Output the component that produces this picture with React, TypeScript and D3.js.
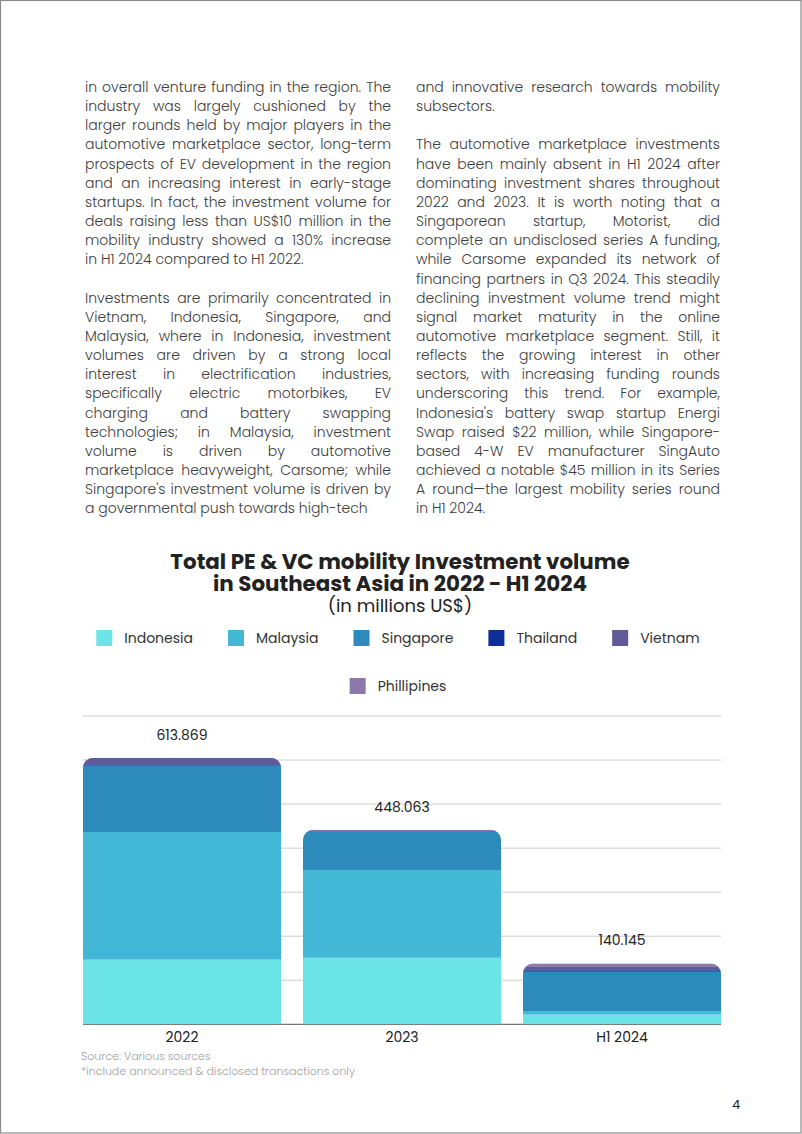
import React from 'react';
import * as d3 from 'd3';

// ---------- data ----------
const categories = ['2022', '2023', 'H1 2024'];
const totalLabels = ['613.869', '448.063', '140.145'];
const seriesNames = ['Indonesia', 'Malaysia', 'Singapore', 'Thailand', 'Vietnam', 'Phillipines'];
const seriesColors = ['#6be4e8', '#43b7d6', '#2d8bbb', '#0f2f96', '#605a9a', '#8c79a9'];
const indonesia = [148.9, 153.2, 22.5];
const malaysia = [294.0, 202.2, 8.0];
const singapore = [152.7, 89.6, 90.5];
const thailand = [3.2, 0.5, 3.5];
const vietnam = [14.5, 1.8, 7.5];
const phillipines = [0.6, 0.8, 8.1];
const yMax = 710;
const gridCount = 7;

const titleLines = ['Total PE & VC mobility Investment volume', 'in Southeast Asia in 2022 - H1 2024'];
const subtitle = '(in millions US$)';
const sourceLines = ['Source: Various sources', '*include announced & disclosed transactions only'];
const pageNumber = '4';

const col1Para1 = [
  'in overall venture funding in the region. The',
  'industry was largely cushioned by the',
  'larger rounds held by major players in the',
  'automotive marketplace sector, long-term',
  'prospects of EV development in the region',
  'and an increasing interest in early-stage',
  'startups. In fact, the investment volume for',
  'deals raising less than US$10 million in the',
  'mobility industry showed a  130% increase',
  'in H1 2024 compared to H1 2022.',
];
const col1Para2 = [
  'Investments are primarily concentrated in',
  'Vietnam, Indonesia, Singapore, and',
  'Malaysia, where in Indonesia, investment',
  'volumes are driven by a strong local',
  'interest in electrification industries,',
  'specifically electric motorbikes, EV',
  'charging and battery swapping',
  'technologies; in Malaysia, investment',
  'volume is driven by automotive',
  'marketplace heavyweight, Carsome;  while',
  "Singapore's investment volume is driven by",
  'a governmental push towards high-tech',
];
const col2Para1 = ['and innovative research towards mobility', 'subsectors.'];
const col2Para2 = [
  'The automotive marketplace investments',
  'have been mainly absent in H1 2024 after',
  'dominating investment shares throughout',
  '2022 and 2023. It is worth noting that a',
  'Singaporean startup, Motorist, did',
  'complete an undisclosed series A funding,',
  'while Carsome expanded its network of',
  'financing partners in Q3 2024. This steadily',
  'declining investment volume trend might',
  'signal market maturity in the online',
  'automotive marketplace segment. Still, it',
  'reflects the growing interest in other',
  'sectors, with increasing funding rounds',
  'underscoring this trend. For example,',
  "Indonesia's battery swap startup Energi",
  'Swap raised $22 million, while Singapore-',
  'based 4-W EV manufacturer SingAuto',
  'achieved a notable $45 million in its Series',
  'A round\u2014the largest mobility series round',
  'in H1 2024.',
];

// ---------- helpers ----------
const FONT = "Poppins, 'Open Sans', sans-serif";
let _ctx: CanvasRenderingContext2D | null = null;
function measure(text: string, font: string): number {
  if (!_ctx) _ctx = document.createElement('canvas').getContext('2d');
  if (!_ctx) return text.length * 7;
  _ctx.font = font;
  return _ctx.measureText(text).width;
}

const BODY_SIZE = 14;
const BODY_WEIGHT = 300;
const BODY_FONT = `${BODY_WEIGHT} ${BODY_SIZE}px ${FONT}`;
const BODY_FILL = '#3c3c3c';

function Paragraph({ lines, x, width, y0, lh }: { lines: string[]; x: number; width: number; y0: number; lh: number }) {
  return (
    <g>
      {lines.map((line, i) => {
        const y = y0 + i * lh;
        const isLast = i === lines.length - 1;
        const words = line.split(/\s+/).filter((w) => w.length > 0);
        if (isLast || words.length < 2) {
          return (
            <text key={i} x={x} y={y} fontFamily={FONT} fontWeight={BODY_WEIGHT} fontSize={BODY_SIZE} fill={BODY_FILL} style={{ whiteSpace: 'pre' }}>
              {line}
            </text>
          );
        }
        const widths = words.map((w) => measure(w, BODY_FONT));
        const sum = d3.sum(widths);
        const gap = (width - sum) / (words.length - 1);
        let cx = x;
        const xs = widths.map((w) => {
          const p = cx;
          cx += w + gap;
          return p;
        });
        return (
          <text key={i} y={y} fontFamily={FONT} fontWeight={BODY_WEIGHT} fontSize={BODY_SIZE} fill={BODY_FILL}>
            {words.map((w, j) => (
              <tspan key={j} x={xs[j]}>
                {w}
              </tspan>
            ))}
          </text>
        );
      })}
    </g>
  );
}

export default function App() {
  const W = 802;
  const H = 1134;

  // chart layout
  const left = 83;
  const right = 721;
  const baseY = 1024.3;
  const topY = 716;

  const x = d3.scaleBand<string>().domain(categories).range([left, right]).paddingInner(0.1).paddingOuter(0);
  const y = d3.scaleLinear().domain([0, yMax]).range([baseY, topY]);

  const seriesValues = [indonesia, malaysia, singapore, thailand, vietnam, phillipines];
  const table = categories.map((c, i) => {
    const row: Record<string, any> = { cat: c };
    seriesNames.forEach((s, k) => (row[s] = seriesValues[k][i]));
    return row;
  });
  const stacked = d3.stack<Record<string, any>>().keys(seriesNames)(table);
  const totals = table.map((r) => d3.sum(seriesNames, (s) => r[s] as number));
  const gridValues = d3.range(gridCount + 1).map((i) => (yMax * i) / gridCount);

  const r = 10;
  const clipPath = (i: number) => {
    const x0 = x(categories[i])!;
    const w = x.bandwidth();
    const yt = y(totals[i]);
    return `M${x0},${baseY}L${x0},${yt + r}A${r},${r} 0 0 1 ${x0 + r},${yt}L${x0 + w - r},${yt}A${r},${r} 0 0 1 ${x0 + w},${yt + r}L${x0 + w},${baseY}Z`;
  };

  // legend layout
  const legendFont = `400 14px ${FONT}`;
  const sw = 16;
  const gapSwText = 12;
  const gapItem = 35;
  const row1 = seriesNames.slice(0, 5);
  const row2 = seriesNames.slice(5);
  const layoutRow = (names: string[], cx: number) => {
    const widths = names.map((n) => sw + gapSwText + measure(n, legendFont));
    const total = d3.sum(widths) + gapItem * (names.length - 1);
    let px = cx - total / 2;
    return names.map((n, k) => {
      const p = px;
      px += widths[k] + gapItem;
      return { name: n, x: p, color: seriesColors[seriesNames.indexOf(n)] };
    });
  };
  const legendRows = [
    { items: layoutRow(row1, 398), y: 630 },
    { items: layoutRow(row2, 398), y: 678 },
  ];

  const lh = 19.15;

  return (
    <div style={{ position: 'absolute', left: 0, top: 0 }}>
      <svg width={W} height={H} viewBox={`0 0 ${W} ${H}`} style={{ display: 'block', background: '#fff' }}>
        <rect x={0} y={0} width={W} height={H} fill="#fff" />
        <rect x={0.5} y={0.5} width={W - 1.5} height={H - 1.5} fill="none" stroke="#8a8a8a" strokeWidth={1.2} />

        {/* body text */}
        <Paragraph lines={col1Para1} x={85} width={306} y0={92} lh={lh} />
        <Paragraph lines={col1Para2} x={85} width={306} y0={92 + 11 * lh} lh={lh} />
        <Paragraph lines={col2Para1} x={416} width={304} y0={92} lh={lh} />
        <Paragraph lines={col2Para2} x={416} width={304} y0={92 + 3 * lh} lh={lh} />

        {/* title */}
        {titleLines.map((t, i) => (
          <text key={i} x={400} y={569 + i * 21.5} textAnchor="middle" fontFamily={FONT} fontWeight={700} fontSize={21.4} fill="#222">
            {t}
          </text>
        ))}
        <text x={400} y={612} textAnchor="middle" fontFamily={FONT} fontSize={18} fill="#222">
          {subtitle}
        </text>

        {/* legend */}
        {legendRows.map((row, ri) => (
          <g key={ri}>
            {row.items.map((it) => (
              <g key={it.name}>
                <rect x={it.x} y={row.y} width={sw} height={sw} fill={it.color} />
                <text x={it.x + sw + gapSwText} y={row.y + 13} fontFamily={FONT} fontSize={14} fill="#333">
                  {it.name}
                </text>
              </g>
            ))}
          </g>
        ))}

        {/* gridlines */}
        {gridValues.map((v, i) => (
          <line key={i} x1={left} x2={right} y1={y(v)} y2={y(v)} stroke={i === 0 ? '#555' : '#cccccc'} strokeWidth={1} />
        ))}

        {/* bars */}
        <defs>
          {categories.map((c, i) => (
            <clipPath key={c} id={`barclip-${i}`}>
              <path d={clipPath(i)} />
            </clipPath>
          ))}
        </defs>
        {categories.map((c, i) => (
          <g key={c} clipPath={`url(#barclip-${i})`}>
            {stacked.map((layer, k) => {
              const d = layer[i];
              return (
                <rect
                  key={layer.key}
                  x={x(c)!}
                  width={x.bandwidth()}
                  y={y(d[1])}
                  height={Math.max(0, y(d[0]) - y(d[1]))}
                  fill={seriesColors[k]}
                />
              );
            })}
          </g>
        ))}

        {/* totals */}
        {categories.map((c, i) => (
          <text key={c} x={x(c)! + x.bandwidth() / 2} y={y(totals[i]) - 18} textAnchor="middle" fontFamily={FONT} fontSize={14} fill="#222">
            {totalLabels[i]}
          </text>
        ))}

        {/* x axis labels */}
        {categories.map((c) => (
          <text key={c} x={x(c)! + x.bandwidth() / 2} y={1042} textAnchor="middle" fontFamily={FONT} fontSize={14} fill="#222">
            {c}
          </text>
        ))}

        {/* source */}
        {sourceLines.map((s, i) => (
          <text key={i} x={81} y={1060 + i * 15} fontFamily={FONT} fontWeight={300} fontSize={11} fill="#a0a0a0">
            {s}
          </text>
        ))}

        <text x={732} y={1109} fontFamily={FONT} fontSize={13} fill="#222">
          {pageNumber}
        </text>
      </svg>
    </div>
  );
}
